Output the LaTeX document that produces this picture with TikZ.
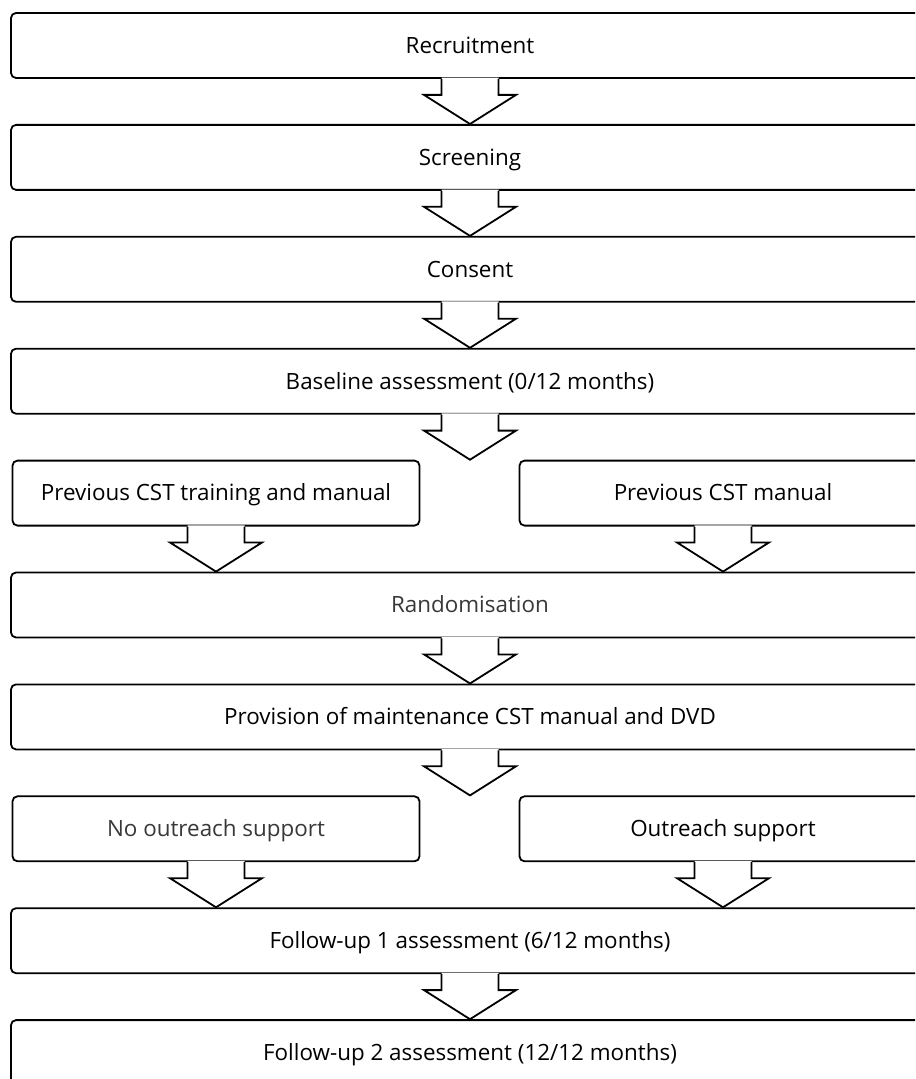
\documentclass[tikz,border=0pt]{standalone}
\usepackage{fontspec}
\setmainfont{Open Sans}
\usetikzlibrary{positioning}

\tikzset{
  fullbox/.style={draw, line width=0.9pt, rounded corners=2.5pt, minimum width=459pt, minimum height=32.5pt, inner sep=0pt, text height=9.8pt, text depth=2pt},
  halfbox/.style={draw, line width=0.9pt, rounded corners=2.5pt, minimum width=203.5pt, minimum height=32.5pt, inner sep=0pt, text height=9.8pt, text depth=2pt},
  greytext/.style={text=black!78},
  blockarr/.style={line width=0.9pt, line join=miter}
}

% block arrow from the bottom of #1 down to the level of #2
\newcommand{\flowarrow}[2]{%
  \fill[white] ([xshift=-14.25pt,yshift=0.6pt]#1.south) -- ++(0,-8.6pt) -- ++(-8.75pt,0)
    -- (#1.south |- #2) -- ([xshift=23pt,yshift=-8pt]#1.south) -- ++(-8.75pt,0) -- ++(0,8.6pt) -- cycle;
  \draw[blockarr] ([xshift=-14.25pt]#1.south) -- ++(0,-8pt) -- ++(-8.75pt,0)
    -- (#1.south |- #2) -- ([xshift=23pt,yshift=-8pt]#1.south) -- ++(-8.75pt,0) -- ++(0,8pt);
}

\begin{document}
\begin{tikzpicture}[x=1pt,y=1pt,font=\fontsize{11.2pt}{13pt}\selectfont]
\useasboundingbox (0,0) rectangle (457.5,-539.5);
\clip (0,0) rectangle (457.5,-539.5);

\node[fullbox] (recruit) at (235,-22.75) {Recruitment};
\node[fullbox] (screen) at (235,-78.7) {Screening};
\node[fullbox] (consent) at (235,-134.65) {Consent};
\node[fullbox] (base) at (235,-190.6) {Baseline assessment (0/12 months)};
\node[halfbox] (prevtrain) at (108,-246.55) {Previous CST training and manual};
\node[halfbox] (prevman) at (361.5,-246.55) {Previous CST manual};
\node[fullbox, greytext] (random) at (235,-302.5) {Randomisation};
\node[fullbox] (provision) at (235,-358.45) {Provision of maintenance CST manual and DVD};
\node[halfbox, greytext] (nooutreach) at (108,-414.4) {No outreach support};
\node[halfbox] (outreach) at (361.5,-414.4) {Outreach support};
\node[fullbox] (follow1) at (235,-470.35) {Follow-up 1 assessment (6/12 months)};
\node[fullbox] (follow2) at (235,-526.3) {Follow-up 2 assessment (12/12 months)};

\flowarrow{recruit}{screen.north}
\flowarrow{screen}{consent.north}
\flowarrow{consent}{base.north}
\flowarrow{base}{prevtrain.north}
\flowarrow{prevtrain}{random.north}
\flowarrow{prevman}{random.north}
\flowarrow{random}{provision.north}
\flowarrow{provision}{nooutreach.north}
\flowarrow{nooutreach}{follow1.north}
\flowarrow{outreach}{follow1.north}
\flowarrow{follow1}{follow2.north}
\end{tikzpicture}
\end{document}
